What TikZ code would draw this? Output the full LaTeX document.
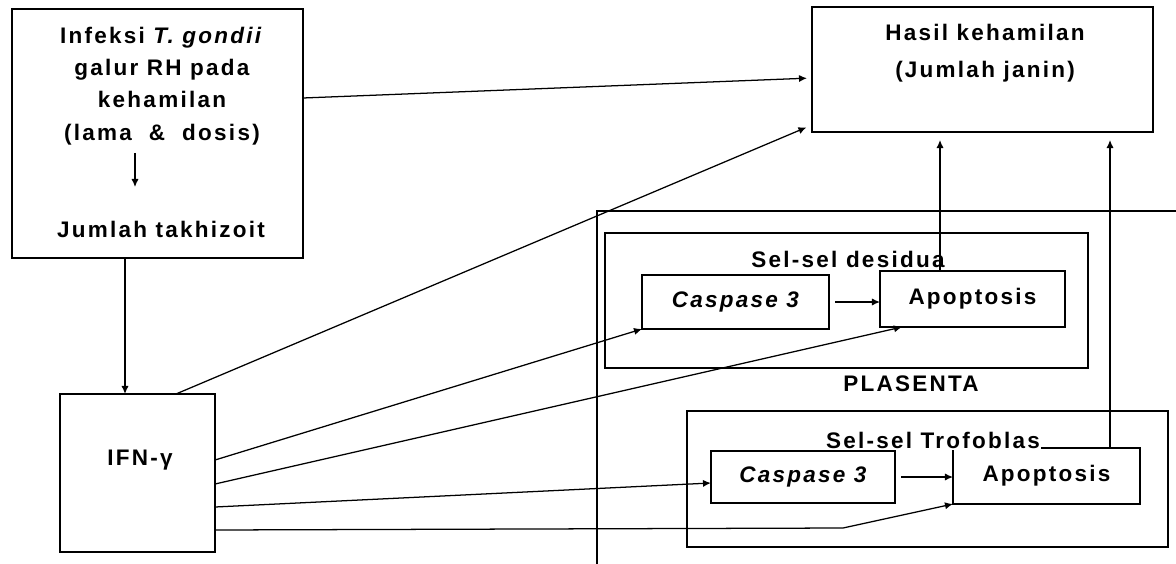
\documentclass[tikz,border=0pt]{standalone}
\usepackage{fontspec}
\setmainfont{Liberation Sans}[LetterSpace=10]
\usetikzlibrary{arrows.meta, positioning, calc}

\begin{document}
\begin{tikzpicture}[x=0.025cm, y=-0.025cm,
  box/.style={draw, line width=0.9pt, inner sep=0pt, outer sep=0pt},
  txt/.style={font=\fontsize{16}{23}\selectfont\bfseries, align=center, inner sep=1pt},
  arr/.style={-{Latex[length=2mm,width=1.8mm]}, line width=0.9pt},
  line/.style={line width=0.9pt}]
  \useasboundingbox (0,0) rectangle (1176,564);
  % Left column: infection box and IFN-gamma
  \node[box, minimum width=7.275cm, minimum height=6.225cm] (infeksi) at (157.5,133.5) {};
  \node[txt] (infTxt) at (162,86) {Infeksi \textit{T. gondii}\\galur RH pada\\kehamilan\\(lama\ \ \&\ \ dosis)};
  \node[txt] (jumlah) at (161,229) {Jumlah takhizoit};
  \coordinate (mini) at (135,153);
  \draw[arr] (mini) -- ++(0,34);
  \node[box, minimum width=3.875cm, minimum height=3.95cm] (ifn) at (137.5,473) {};
  \node[txt] (ifnTxt) at (140,460) {IFN-γ};
  % Outcome box
  \node[box, minimum width=8.525cm, minimum height=3.125cm] (hasil) at (982.5,69.5) {};
  \node[txt, font=\fontsize{16}{26}\selectfont\bfseries] (hasilTxt) at (985,53) {Hasil kehamilan\\(Jumlah janin)};
  % Placenta outline (runs off the page)
  \draw[line] (1190,211) -- (597,211) -- (597,580);
  \node[txt] (plasenta) at (911,384) {PLASENTA};
  % Decidual cells
  \node[box, minimum width=12.075cm, minimum height=3.375cm] (desidua) at (846.5,300.5) {};
  \node[box, txt, inner sep=0pt, minimum width=4.675cm, minimum height=1.35cm] (desCasp) at (735.5,302) {\itshape Caspase 3};
  \node[box, txt, inner sep=0pt, minimum width=4.625cm, minimum height=1.4cm] (desApo) at (972.5,299) {Apoptosis};
  \node[txt, fill=white] (desLbl) at (848,259) {Sel-sel desidua};
  % Trophoblast cells
  \node[box, minimum width=12.025cm, minimum height=3.4cm] (trofoblas) at (927.5,479) {};
  \node[box, txt, inner sep=0pt, minimum width=4.6cm, minimum height=1.3cm] (troCasp) at (803,477) {\itshape Caspase 3};
  \node[box, txt, inner sep=0pt, minimum width=4.675cm, minimum height=1.4cm] (troApo) at (1046.5,476) {Apoptosis};
  \node[txt, fill=white] (troLbl) at (933,440) {Sel-sel Trofoblas};
  % Arrows
  \coordinate (drop) at ($(ifn.north)+(-12.5,0)$);
  \draw[arr] (drop |- infeksi.south) -- (drop);
  \draw[arr, shorten >=0.125cm] ($(infeksi.east)+(0,-35.5)$) -- ($(hasil.west)+(0,8.5)$);
  \draw[arr, shorten >=0.15cm] ($(ifn.north)+(38.5,0)$) -- ($(hasil.south west)+(0,-7)$);
  \draw[arr, shorten <=0.15cm] (desCasp.east) -- (desApo.west |- desCasp.east);
  \draw[arr, shorten <=0.15cm] (troCasp.east) -- (troApo.west |- troCasp.east);
  \coordinate (upA) at ($(desApo.north)+(-32.5,0)$);
  \coordinate (upB) at ($(troApo.north)+(63.5,0)$);
  \draw[arr, shorten >=0.2cm] (upA) -- (upA |- hasil.south);
  \draw[arr, shorten >=0.2cm] (upB) -- (upB |- hasil.south);
  % IFN-gamma to the cells
  \draw[arr] ($(ifn.east)+(0,-13)$) -- (desCasp.south west);
  \draw[arr] ($(ifn.east)+(0,11)$) -- ($(desApo.south west)+(22,0)$);
  \draw[arr] ($(ifn.east)+(0,34)$) -- ($(troCasp.west)+(0,6)$);
  \draw[arr] ($(ifn.east)+(0,57)$) -- ($(troApo.south west)+(-110,24)$) -- (troApo.south west);
\end{tikzpicture}
\end{document}
